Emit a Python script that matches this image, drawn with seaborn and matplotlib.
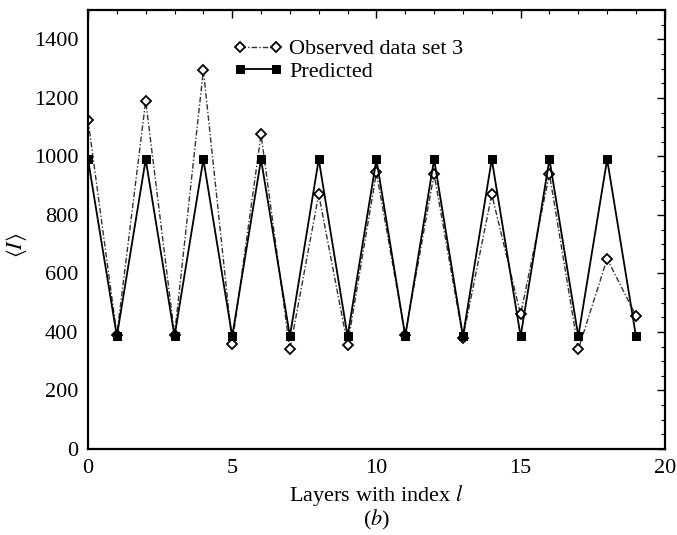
import matplotlib
matplotlib.use("Agg")
import matplotlib.pyplot as plt
from matplotlib.ticker import MultipleLocator
import seaborn as sns
import pandas as pd

layers = list(range(20))
observed = [1125, 390, 1190, 390, 1295, 360, 1075, 340, 870, 355,
            945, 390, 940, 380, 870, 460, 940, 340, 650, 455]
predicted = [990, 385, 990, 385, 990, 385, 990, 385, 990, 385,
             990, 385, 990, 385, 990, 385, 990, 385, 990, 385]
x_ticks = [0, 5, 10, 15, 20]
y_ticks = [0, 200, 400, 600, 800, 1000, 1200, 1400]

sns.set_theme(style="white")
plt.rcParams["font.family"] = ["Liberation Serif", "DejaVu Serif"]
plt.rcParams["mathtext.fontset"] = "stix"
plt.rcParams["text.color"] = "black"
plt.rcParams["axes.labelcolor"] = "black"

df = pd.DataFrame({"l": layers, "obs": observed, "pred": predicted})

fig = plt.figure(figsize=(6.77, 5.35), dpi=100)
ax = fig.add_axes([0.130, 0.161, 0.852, 0.820])

sns.lineplot(data=df, x="l", y="obs", ax=ax, color="#333333", lw=1.0,
             linestyle=(0, (4, 1.5, 1, 1.5)), marker="D", markersize=5.2,
             markerfacecolor="white", markeredgecolor="black",
             markeredgewidth=1.3, label="Observed data set 3")
sns.lineplot(data=df, x="l", y="pred", ax=ax, color="black", lw=1.3,
             marker="s", markersize=5.8, markerfacecolor="black",
             markeredgecolor="black", label="Predicted")

ax.set_xlim(0, 20)
ax.set_ylim(0, 1500)
ax.set_xticks(x_ticks)
ax.set_yticks(y_ticks)
ax.xaxis.set_minor_locator(MultipleLocator(1))
ax.yaxis.set_minor_locator(MultipleLocator(50))
ax.tick_params(which="both", direction="in", top=True, right=True,
               labelsize=16, colors="black")
ax.tick_params(which="major", length=6, width=1.0, pad=7)
ax.tick_params(which="minor", length=3, width=0.8)
for s in ax.spines.values():
    s.set_linewidth(1.6)
    s.set_color("black")

ax.set_xlabel("Layers with index $l$\n($b$)", fontsize=16, labelpad=4,
              linespacing=1.0, color="black")
ax.set_ylabel(r"$\langle I\rangle$", fontsize=16, color="black")
ax.yaxis.set_label_coords(-0.102, 0.465)

leg = ax.legend(loc="upper left", bbox_to_anchor=(0.237, 0.955), frameon=False,
                fontsize=16, numpoints=2, handlelength=2.2, handletextpad=0.3,
                labelspacing=0.1, borderaxespad=0.0)
for t in leg.get_texts():
    t.set_color("black")

fig.savefig("out.png", dpi=100)
